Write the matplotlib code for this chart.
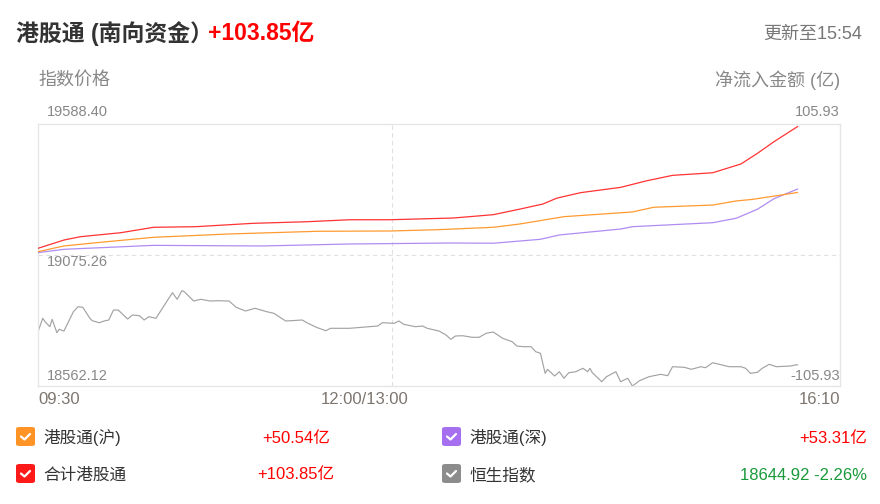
import matplotlib
matplotlib.use("Agg")
import matplotlib.pyplot as plt
from matplotlib.patches import FancyBboxPatch
from matplotlib.lines import Line2D

# minutes from 09:30 on the trading axis (lunch break removed), 0..340
total_min = [0, 11, 18, 35, 49, 67, 91, 114, 132, 149, 176, 193, 204, 214, 220,
             230, 247, 258, 269, 286, 298, 305, 312, 322]
total_val = [5.4, 12.1, 14.8, 18.0, 22.4, 22.9, 25.6, 26.9, 28.5, 28.5, 29.9, 32.6,
             37.0, 41.2, 46.0, 50.4, 54.7, 60.0, 64.4, 66.5, 73.6, 82.2, 91.6, 103.85]

sh_min = [0, 11, 25, 49, 81, 119, 149, 170, 193, 204, 223, 252, 261, 286, 296, 303, 322]
sh_val = [2.7, 7.3, 10.0, 14.3, 17.0, 19.2, 19.4, 20.5, 22.4, 25.0, 31.0, 34.8, 38.6,
          40.4, 43.7, 45.0, 50.54]

sz_min = [0, 11, 49, 95, 132, 175, 193, 213, 221, 247, 252, 272, 286, 296, 305, 312, 322]
sz_val = [1.9, 4.6, 7.8, 7.3, 8.9, 9.7, 9.5, 12.7, 16.2, 21.0, 22.9, 24.8, 26.1, 29.7,
          37.0, 45.5, 53.31]

hsi_min = [0, 2, 3, 5, 6, 8, 9, 11, 15, 17, 19, 22, 23, 26, 28, 30, 32, 34, 38, 40,
           43, 45, 47, 50, 53, 57, 59, 61, 62, 66, 69, 73, 76, 81, 84, 88, 92, 97, 100,
           105, 112, 114, 118, 122, 124, 132, 144, 146, 151, 153, 155, 160, 163, 165,
           170, 173, 175, 177, 180, 184, 187, 190, 193, 197, 201, 203, 206, 209, 211,
           213, 215, 216, 219, 221, 223, 225, 228, 231, 233, 234, 235, 239, 241, 245,
           247, 250, 252, 255, 259, 264, 267, 269, 274, 277, 281, 283, 286, 290, 293,
           298, 300, 302, 305, 307, 310, 313, 319, 321, 322]
hsi_val = [18774.8, 18827.3, 18814.0, 18794.4, 18823.4, 18770.9, 18784.2, 18777.5,
           18853.1, 18872.7, 18870.4, 18827.3, 18817.9, 18810.0, 18816.7, 18820.6,
           18859.8, 18859.8, 18824.5, 18840.2, 18837.5, 18820.6, 18833.5, 18827.3,
           18870.4, 18927.6, 18901.7, 18935.4, 18931.5, 18895.0, 18901.7, 18895.0,
           18896.2, 18895.0, 18870.4, 18855.9, 18866.5, 18853.1, 18846.9, 18816.7,
           18820.6, 18810.0, 18792.0, 18778.7, 18788.1, 18788.1, 18797.1, 18810.0,
           18807.7, 18816.7, 18803.8, 18794.4, 18797.1, 18788.1, 18777.5, 18761.9,
           18745.0, 18758.0, 18759.1, 18752.9, 18752.9, 18768.5, 18773.6, 18748.9,
           18735.6, 18718.8, 18716.0, 18716.0, 18696.5, 18690.2, 18611.8, 18627.5,
           18601.3, 18618.1, 18592.3, 18614.2, 18618.1, 18631.4, 18618.1, 18631.4,
           18614.2, 18578.9, 18598.5, 18618.1, 18578.9, 18592.3, 18562.1, 18582.9,
           18598.5, 18607.9, 18602.4, 18637.7, 18635.3, 18627.5, 18637.7, 18633.8,
           18653.4, 18644.4, 18637.7, 18637.7, 18631.4, 18611.8, 18615.8, 18631.4,
           18647.1, 18637.7, 18640.4, 18644.4, 18644.92]

idx_min, idx_mid, idx_max = 18562.12, 19075.26, 19588.40
flow_lim = 105.93
x_ticks = [0, 150, 340]
x_labels = ["09:30", "12:00/13:00", "16:10"]

legend_names = ["港股通(沪)", "港股通(深)", "合计港股通", "恒生指数"]
legend_values = ["+50.54亿", "+53.31亿", "+103.85亿", "18644.92 -2.26%"]

FONT = ["Liberation Sans", "Noto Sans CJK SC", "DejaVu Sans"]
plt.rcParams["font.family"] = FONT

W, H = 880, 504
fig = plt.figure(figsize=(W / 100, H / 100), dpi=100)


def px(x, y):
    return x / W, 1 - y / H


# plot area
left, top, right, bottom = 38, 124, 840, 386
ax = fig.add_axes([left / W, 1 - bottom / H, (right - left) / W, (bottom - top) / H])
ax.set_xlim(0, 340)
ax.set_ylim(idx_min, idx_max)
for s in ax.spines.values():
    s.set_color("#e6e6e6")
    s.set_linewidth(1)
ax.set_xticks([])
ax.set_yticks([])
ax.axhline(idx_mid, color="#e0e0e0", lw=0.8, ls=(0, (4, 3)))
ax.axvline(x_ticks[1], color="#e0e0e0", lw=0.8, ls=(0, (4, 3)))
ax.plot(hsi_min, hsi_val, color="#a3a3a3", lw=0.85)

ax2 = ax.twinx()
ax2.set_ylim(-flow_lim, flow_lim)
ax2.set_yticks([])
for s in ax2.spines.values():
    s.set_visible(False)
ax2.plot(sz_min, sz_val, color="#b08cf2", lw=0.9)
ax2.plot(sh_min, sh_val, color="#ff9a30", lw=0.9)
ax2.plot(total_min, total_val, color="#ff3333", lw=0.9)

# header
fig.text(*px(16, 34), "港股通 (南向资金）", fontsize=16.5, fontweight="bold",
         color="#333333", va="center", ha="left")
fig.text(*px(208, 34), "+103.85亿", fontsize=16.5, fontweight="bold",
         color="#ff0000", va="center", ha="left")
fig.text(*px(862, 34), "更新至15:54", fontsize=13, color="#777777",
         va="center", ha="right")
fig.text(*px(38, 80), "指数价格", fontsize=13, color="#888888", va="center", ha="left")
fig.text(*px(840, 80), "净流入金额 (亿)", fontsize=13, color="#888888",
         va="center", ha="right")

# axis value labels
lab = dict(fontsize=10.5, color="#888888", va="center")
fig.text(*px(47, 112), f"{idx_max:.2f}", ha="left", **lab)
fig.text(*px(840, 112), f"{flow_lim:.2f}", ha="right", **lab)
fig.text(*px(47, 262), f"{idx_mid:.2f}", ha="left", **lab)
fig.text(*px(47, 376), f"{idx_min:.2f}", ha="left", **lab)
fig.text(*px(840, 376), f"-{flow_lim:.2f}", ha="right", **lab)

tick_x = [38, 365, 840]
tick_ha = ["left", "center", "right"]
for xp, l, ha in zip(tick_x, x_labels, tick_ha):
    fig.text(*px(xp, 399), l, fontsize=12, color="#7d756e", va="center", ha=ha)

# legend
box_colors = ["#ff9326", "#a66ff0", "#ff1a1a", "#8c8c8c"]
val_colors = ["#ff0000", "#ff0000", "#ff0000", "#1a9a3a"]
box_pos = [(16, 427), (442, 427), (16, 464), (442, 464)]
val_pos = [(296, "center"), (867, "right"), (296, "center"), (867, "right")]
for i in range(4):
    bx, by = box_pos[i]
    x0, y0 = px(bx, by + 19)
    patch = FancyBboxPatch((x0, y0), 19 / W, 19 / H, transform=fig.transFigure,
                           boxstyle="round,pad=0,rounding_size=0.004",
                           facecolor=box_colors[i], edgecolor="none")
    fig.patches.append(patch)
    cx = [bx + 5, bx + 8.5, bx + 14]
    cy = [by + 9.5, by + 12.5, by + 7]
    fig.lines.append(Line2D([c / W for c in cx], [1 - c / H for c in cy],
                            transform=fig.transFigure, color="white", lw=1.6,
                            solid_capstyle="round", solid_joinstyle="round"))
    fig.text(*px(bx + 27, by + 11), legend_names[i], fontsize=12, color="#333333",
             ha="left", va="center")
    vx, vha = val_pos[i]
    fig.text(*px(vx, by + 11), legend_values[i], fontsize=12, color=val_colors[i],
             ha=vha, va="center")

fig.savefig("out.png", dpi=100)
